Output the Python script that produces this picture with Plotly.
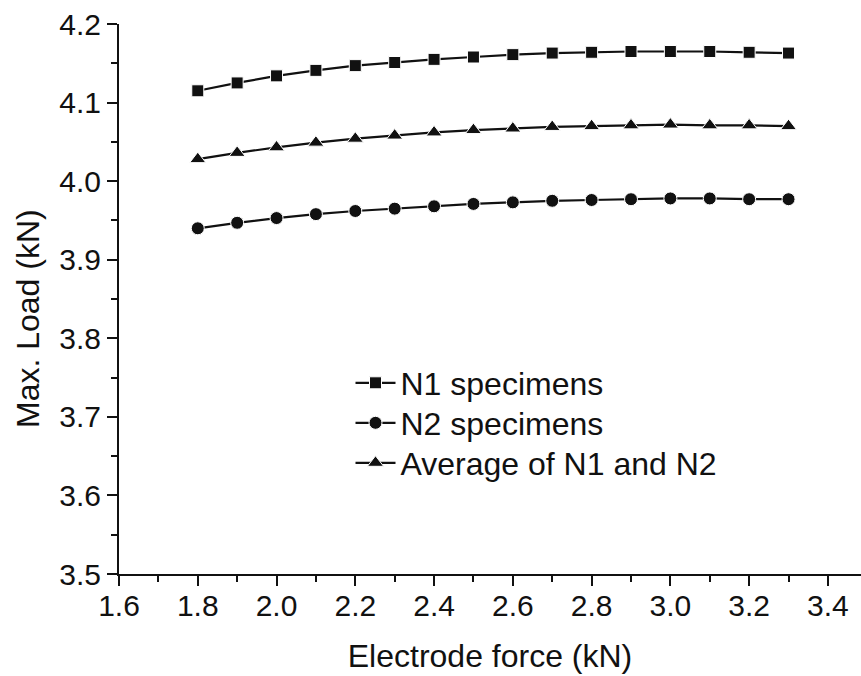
import plotly.graph_objects as go

force = [1.8, 1.9, 2.0, 2.1, 2.2, 2.3, 2.4, 2.5, 2.6, 2.7, 2.8, 2.9, 3.0, 3.1, 3.2, 3.3]
n1 = [4.115, 4.125, 4.134, 4.141, 4.147, 4.151, 4.155, 4.158, 4.161, 4.163, 4.164, 4.165, 4.165, 4.165, 4.164, 4.163]
n2 = [3.940, 3.947, 3.953, 3.958, 3.962, 3.965, 3.968, 3.971, 3.973, 3.975, 3.976, 3.977, 3.978, 3.978, 3.977, 3.977]
avg = [4.028, 4.036, 4.043, 4.049, 4.054, 4.058, 4.062, 4.065, 4.067, 4.069, 4.070, 4.071, 4.072, 4.071, 4.071, 4.070]

FONT = "Liberation Sans, Arial, sans-serif"
INK = "#111111"

fig = go.Figure()
series = [("N1 specimens", n1, "square", 12, "legend"),
          ("N2 specimens", n2, "circle", 13, "legend2"),
          ("Average of N1 and N2", avg, "triangle-up", 14, "legend3")]
for name, ys, sym, sz, lg in series:
    fig.add_trace(go.Scatter(x=force, y=ys, name=name, mode="lines+markers",
                             line=dict(color=INK, width=2.2), legend=lg,
                             marker=dict(symbol=sym, size=sz, color=INK,
                                         line=dict(color="white", width=1))))

def leg(ypix):
    return dict(x=0.312, y=(574 - ypix) / 550, xanchor="left", yanchor="middle",
                bgcolor="rgba(0,0,0,0)", font=dict(size=32, family=FONT, color=INK),
                itemwidth=40)

fig.update_layout(
    width=861, height=676,
    margin=dict(l=119, r=0, t=24, b=102),
    paper_bgcolor="white", plot_bgcolor="white",
    font=dict(family=FONT, size=30, color=INK),
    legend=leg(383), legend2=leg(423), legend3=leg(463),
    showlegend=True,
    annotations=[dict(text="Max. Load (kN)", textangle=-90, xref="paper", yref="paper",
                      x=-(119 - 28) / 742, y=(574 - 319) / 550, xanchor="center", yanchor="middle",
                      showarrow=False, font=dict(size=32, family=FONT, color=INK))],
)
fig.update_xaxes(range=[1.6, 3.484], dtick=0.2, tick0=1.6, tickformat=".1f",
                 showgrid=False, zeroline=False, showline=True, linecolor=INK, linewidth=2,
                 ticks="outside", ticklen=10, tickwidth=2, tickcolor=INK,
                 tickfont=dict(size=30), ticklabelstandoff=-6,
                 minor=dict(dtick=0.1, ticks="outside", ticklen=6, tickwidth=2, tickcolor=INK),
                 title=dict(text="Electrode force (kN)", standoff=24, font=dict(size=32)))
fig.update_yaxes(range=[3.5, 4.2], dtick=0.1, tick0=3.5, tickformat=".1f",
                 showgrid=False, zeroline=False, showline=True, linecolor=INK, linewidth=2,
                 ticks="outside", ticklen=10, tickwidth=2, tickcolor=INK,
                 tickfont=dict(size=30),
                 minor=dict(dtick=0.05, ticks="outside", ticklen=6, tickwidth=2, tickcolor=INK))

fig.write_html("out.html")
